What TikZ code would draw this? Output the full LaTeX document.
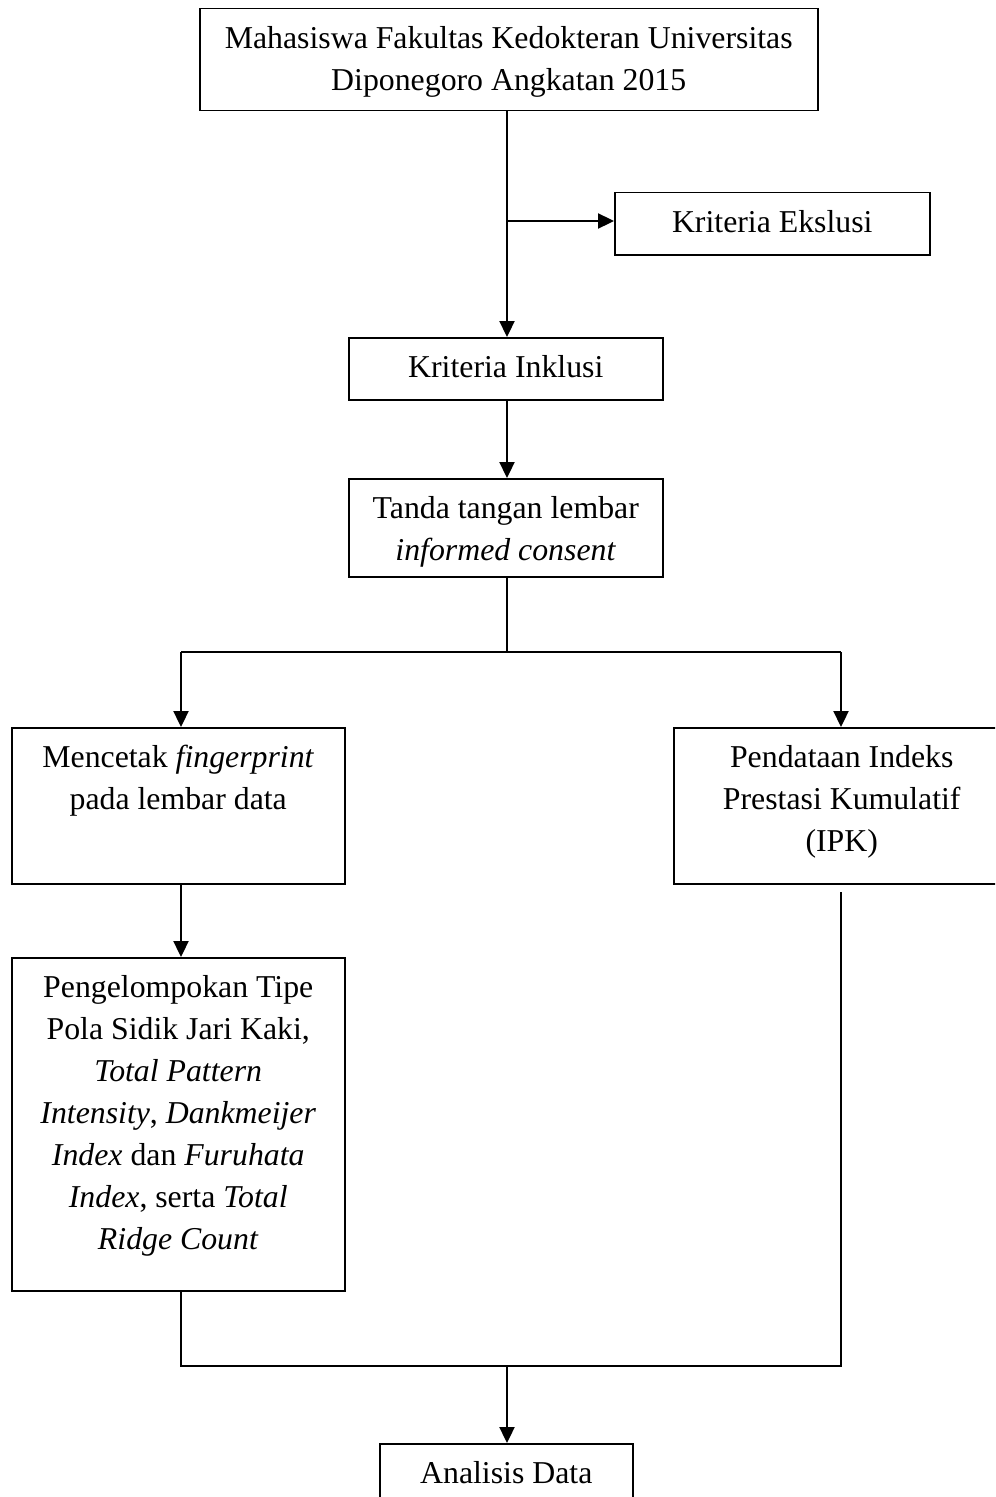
\documentclass[tikz,border=0pt]{standalone}
\usepackage{fontspec}
\setmainfont{Liberation Serif}
\usepackage{tikz}
\usetikzlibrary{positioning,arrows.meta}

\newcommand{\isikotak}[3]{\parbox[c][#2][t]{#1}{\centering\rule{0pt}{40bp}#3}}

\begin{document}
\begin{tikzpicture}[x=1bp,y=-1bp,
		kotak/.style={draw, line width=1.5bp, inner sep=0pt, anchor=north west},
		panah/.style={-{Triangle[length=16bp,width=15bp]}, line width=2.3bp},
		garis/.style={line width=1.5bp}]
		\useasboundingbox (0,0) rectangle (995,1497);
		\clip (0,0) rectangle (995,1497);
		\fontsize{31.8bp}{42bp}\selectfont
		% kotak
		\node [kotak] (mahasiswa) at (199,8) {\isikotak{618bp}{102bp}{Mahasiswa Fakultas Kedokteran Universitas\\Diponegoro Angkatan 2015}};
		\node [kotak] (ekslusi) at (614,192) {\isikotak{315bp}{62bp}{Kriteria Ekslusi}};
		\node [kotak] (inklusi) at (348,337) {\isikotak{314bp}{62bp}{Kriteria Inklusi}};
		\node [kotak] (consent) at (348,478) {\isikotak{314bp}{98bp}{Tanda tangan lembar\\\textit{informed consent}}};
		\node [kotak] (mencetak) at (11,727) {\isikotak{333bp}{156bp}{Mencetak \textit{fingerprint}\\pada lembar data}};
		\node [kotak] (pendataan) at (673,727) {\isikotak{336bp}{156bp}{Pendataan Indeks\\Prestasi Kumulatif\\(IPK)}};
		\node [kotak] (pengelompokan) at (11,957) {\isikotak{333bp}{333bp}{Pengelompokan Tipe\\Pola Sidik Jari Kaki,\\\textit{Total Pattern}\\\textit{Intensity}, \textit{Dankmeijer}\\\textit{Index} dan \textit{Furuhata}\\\textit{Index}, serta \textit{Total}\\\textit{Ridge Count}}};
		\node [kotak] (analisis) at (379,1443) {\isikotak{253bp}{62bp}{Analisis Data}};
		% titik cabang
		\coordinate (cabang) at (507,221);
		\coordinate (bagi) at (507,652);
		\coordinate (kiri) at (181,652);
		\coordinate (kanan) at (841,652);
		\coordinate (gabung) at (507,1366);
		% panah
		\draw [panah] (cabang |- mahasiswa.south) -- (cabang |- inklusi.north);
		\draw [panah] (cabang) -- (cabang -| ekslusi.west);
		\draw [panah] (cabang |- inklusi.south) -- (cabang |- consent.north);
		\draw [garis] (cabang |- consent.south) -- (bagi);
		\draw [garis] (kiri) -- (kanan);
		\draw [panah] (kiri) -- (kiri |- mencetak.north);
		\draw [panah] (kanan) -- (kanan |- pendataan.north);
		\draw [panah] (kiri |- mencetak.south) -- (kiri |- pengelompokan.north);
		\draw [garis, shorten >=7bp] (kiri |- pengelompokan.south) |- (kanan |- gabung) -- (kanan |- pendataan.south);
		\draw [panah] (gabung) -- (gabung |- analisis.north);
\end{tikzpicture}
\end{document}
